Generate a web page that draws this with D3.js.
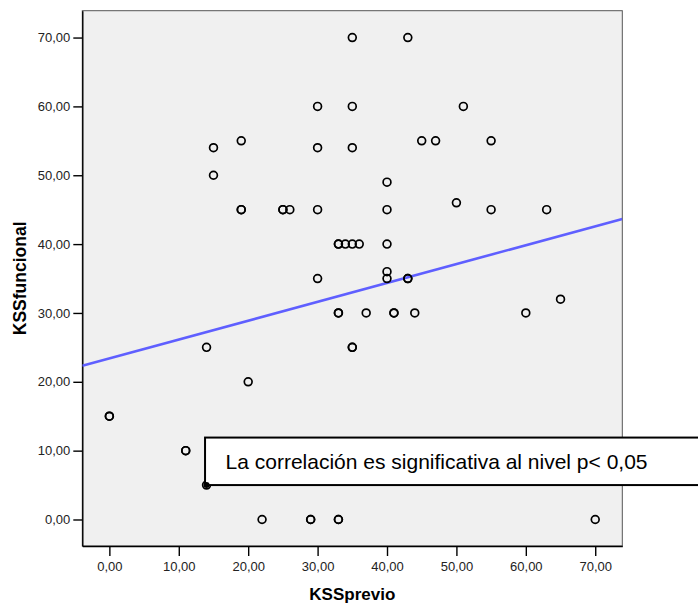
<!DOCTYPE html>
<html>
<head>
<meta charset="utf-8">
<script src="https://cdn.jsdelivr.net/npm/d3@7"></script>
<style>
  html, body { margin: 0; padding: 0; background: #fff; }
  svg { display: block; font-family: "Liberation Sans", Arial, sans-serif; }
</style>
</head>
<body>
<svg id="chart" width="698" height="604"></svg>
<script>
// KSSprevio (x) vs KSSfuncional (y); repeated pairs are coincident cases
const kssPrevio = [
  35, 43,
  30, 35, 51,
  15, 30, 35,
  19, 45, 47, 55,
  15, 40, 50,
  19, 19, 25, 25, 26, 30, 40, 55, 63,
  33, 33, 34, 35, 36, 40,
  40, 40, 30, 43, 43,
  65,
  33, 33, 37, 41, 41, 44, 60,
  14, 35, 35,
  20,
  0, 0,
  11, 11,
  14,
  22, 29, 29, 33, 33, 70
];
const kssFuncional = [
  70, 70,
  60, 60, 60,
  54, 54, 54,
  55, 55, 55, 55,
  50, 49, 46,
  45, 45, 45, 45, 45, 45, 45, 45, 45,
  40, 40, 40, 40, 40, 40,
  36, 35, 35, 35, 35,
  32,
  30, 30, 30, 30, 30, 30, 30,
  25, 25, 25,
  20,
  15, 15,
  10, 10,
  5,
  0, 0, 0, 0, 0, 0
];

// Linear fit line (total)
const fitIntercept = 23.4;
const fitSlope = 0.274;

const tickValues = [0, 10, 20, 30, 40, 50, 60, 70];
const xDomain = [-3.9, 73.9];
const yDomain = [-3.85, 73.9];

const xTitle = "KSSprevio";
const yTitle = "KSSfuncional";
const noteText = "La correlación es significativa al nivel p< 0,05";
// case the note is anchored to
const noteAnchor = [14, 5];

const svg = d3.select("#chart");
const pLeft = 82.3, pRight = 622.3, pTop = 10.7, pBottom = 546;

const x = d3.scaleLinear().domain(xDomain).range([pLeft, pRight]);
const y = d3.scaleLinear().domain(yDomain).range([pBottom, pTop]);
const fmt = v => d3.format(".2f")(v).replace(".", ",");

// plot background
svg.append("rect")
  .attr("x", pLeft).attr("y", pTop)
  .attr("width", pRight - pLeft).attr("height", pBottom - pTop)
  .attr("fill", "#f0f0f0")
  .attr("stroke", "#555").attr("stroke-width", 1);

svg.append("defs").append("clipPath").attr("id", "plotClip")
  .append("rect")
  .attr("x", pLeft).attr("y", pTop)
  .attr("width", pRight - pLeft).attr("height", pBottom - pTop);

// axes
const xAxis = d3.axisBottom(x).tickValues(tickValues).tickFormat(fmt)
  .tickSizeInner(10).tickSizeOuter(0).tickPadding(6);
const yAxis = d3.axisLeft(y).tickValues(tickValues).tickFormat(fmt)
  .tickSizeInner(9).tickSizeOuter(0).tickPadding(3);

const gx = svg.append("g").attr("transform", `translate(0,${pBottom})`).call(xAxis);
const gy = svg.append("g").attr("transform", `translate(${pLeft},0)`).call(yAxis);
[gx, gy].forEach(g => {
  g.select(".domain").attr("stroke", "#000").attr("stroke-width", 1.4);
  g.selectAll(".tick line").attr("stroke", "#000").attr("stroke-width", 1.4);
  g.selectAll(".tick text")
    .attr("fill", "#222")
    .style("font-family", "'Liberation Sans', Arial, sans-serif")
    .style("font-size", "13px");
});

// axis titles
svg.append("text")
  .attr("x", (pLeft + pRight) / 2).attr("y", 600)
  .attr("text-anchor", "middle")
  .style("font-size", "17px").style("font-weight", "bold")
  .text(xTitle);
svg.append("text")
  .attr("transform", `translate(26,${(pTop + pBottom) / 2}) rotate(-90)`)
  .attr("text-anchor", "middle")
  .style("font-size", "17.5px").style("font-weight", "bold")
  .text(yTitle);

const plot = svg.append("g").attr("clip-path", "url(#plotClip)");

// fit line
plot.append("line")
  .attr("x1", x(xDomain[0])).attr("y1", y(fitIntercept + fitSlope * xDomain[0]))
  .attr("x2", x(xDomain[1])).attr("y2", y(fitIntercept + fitSlope * xDomain[1]))
  .attr("stroke", "#5f5fff").attr("stroke-width", 2.6);

// points
const pts = kssPrevio.map((v, i) => [v, kssFuncional[i]]);
plot.selectAll("circle.pt").data(pts).join("circle")
  .attr("class", "pt")
  .attr("cx", d => x(d[0])).attr("cy", d => y(d[1]))
  .attr("r", 3.9)
  .attr("fill", "none")
  .attr("stroke", "#000").attr("stroke-width", 1.7);

// annotation box anchored at a case
const ax = x(noteAnchor[0]), ay = y(noteAnchor[1]);
const boxH = 47.5;
const note = svg.append("g");
note.append("rect")
  .attr("x", ax - 1.5).attr("y", ay - boxH)
  .attr("width", 698 - ax + 10).attr("height", boxH)
  .attr("fill", "#fff").attr("stroke", "#000").attr("stroke-width", 2);
note.append("circle")
  .attr("cx", ax).attr("cy", ay).attr("r", 3)
  .attr("fill", "#000");
note.append("text")
  .attr("x", ax + 19).attr("y", ay - 16)
  .style("font-size", "21px")
  .attr("fill", "#000")
  .text(noteText);
</script>
</body>
</html>
